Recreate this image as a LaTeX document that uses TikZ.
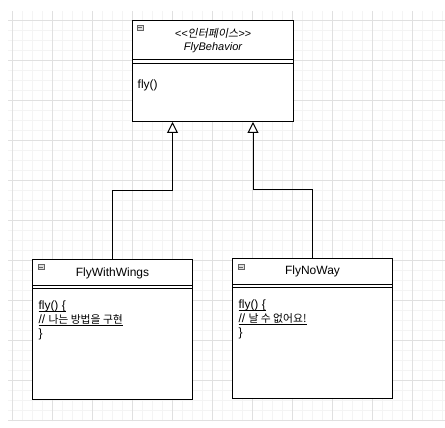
\documentclass[tikz,border=0pt]{standalone}
\usepackage{fontspec}
\setmainfont{Liberation Sans}
\newfontfamily\cjk{Noto Sans CJK KR}[Scale=0.9]
\newfontfamily\cjkit{Noto Sans CJK KR}[FakeSlant=0.2]
\usetikzlibrary{arrows.meta,positioning}
\definecolor{gridmajor}{RGB}{224,224,224}
\definecolor{gridminor}{RGB}{244,244,244}
\definecolor{iconfill}{RGB}{222,222,222}
\definecolor{icondraw}{RGB}{100,100,100}
% underline close to the baseline
\newcommand\methodul[1]{\setbox0\hbox{#1}\rlap{\rule[-2pt]{\wd0}{0.7pt}}\box0}

\begin{document}
\begin{tikzpicture}[x=1pt,y=-1pt,
    classbox/.style={draw, line width=1pt, rectangle, fill=white, inner sep=0pt, anchor=north west},
    iconbox/.style={draw=icondraw, fill=iconfill, line width=0.6pt, minimum width=6pt, minimum height=5pt, inner sep=0pt, anchor=north west},
    namefont/.style={font=\fontsize{11}{13}\selectfont},
    methodtext/.style={font=\fontsize{12}{14}\selectfont, inner sep=0pt, align=left},
    implements/.style={line width=1pt, -{Triangle[length=11pt, width=11pt, fill=white]}}]
    % Background grid
    \useasboundingbox (0,0) rectangle (445,428);
    \fill[white] (0,0) rectangle (445,428);
    \begin{scope}[shift={(12,20)}]
        \draw[gridminor, line width=0.6pt, step=10pt] (-4,401) grid (433,-9);
        \draw[gridmajor, line width=0.8pt, step=40pt] (-4,401) grid (433,-9);
    \end{scope}

    % Interface
    \node[classbox, minimum width=161pt, minimum height=101pt] (flyb) at (132,20) {};
    \draw[line width=1pt] ([yshift=-40pt]flyb.north west) -- ([yshift=-40pt]flyb.north east);
    \draw[line width=1pt] ([yshift=-44pt]flyb.north west) -- ([yshift=-44pt]flyb.north east);
    \node[iconbox] (flybicon) at ([xshift=5pt,yshift=-5pt]flyb.north west) {};
    \draw[icondraw, line width=0.8pt] ([xshift=1.2pt]flybicon.west) -- ([xshift=-1.2pt]flybicon.east);
    \node[namefont] (flybstereo) at ([yshift=-13.3pt]flyb.north) {\itshape <{}<{\cjkit 인터페이스}>{}>};
    \node[namefont] (flybname) at ([yshift=-27.3pt]flyb.north) {\itshape FlyBehavior};
    \node[methodtext, anchor=west] (flybbody) at ([xshift=5.5pt,yshift=-65.7pt]flyb.north west) {fly()};

    % Implementation 1
    \node[classbox, minimum width=160pt, minimum height=140pt] (fww) at (32,259) {};
    \draw[line width=1pt] ([yshift=-26pt]fww.north west) -- ([yshift=-26pt]fww.north east);
    \draw[line width=1pt] ([yshift=-29.5pt]fww.north west) -- ([yshift=-29.5pt]fww.north east);
    \node[iconbox] (fwwicon) at ([xshift=5.5pt,yshift=-5.3pt]fww.north west) {};
    \draw[icondraw, line width=0.8pt] ([xshift=1.2pt]fwwicon.west) -- ([xshift=-1.2pt]fwwicon.east);
    \node[font=\fontsize{12}{14}\selectfont] (fwwname) at ([yshift=-14.3pt]fww.north) {FlyWithWings};
    \node[methodtext, anchor=north west] (fwwbody) at ([xshift=6.3pt,yshift=-42pt]fww.north west)
        {\methodul{fly() \{}\\ \methodul{// {\cjk 나는 방법을 구현}}\\ \}};

    % Implementation 2
    \node[classbox, minimum width=160pt, minimum height=140pt] (fnw) at (232,258) {};
    \draw[line width=1pt] ([yshift=-26pt]fnw.north west) -- ([yshift=-26pt]fnw.north east);
    \draw[line width=1pt] ([yshift=-29.5pt]fnw.north west) -- ([yshift=-29.5pt]fnw.north east);
    \node[iconbox] (fnwicon) at ([xshift=5.5pt,yshift=-6.3pt]fnw.north west) {};
    \draw[icondraw, line width=0.8pt] ([xshift=1.2pt]fnwicon.west) -- ([xshift=-1.2pt]fnwicon.east);
    \node[font=\fontsize{12}{14}\selectfont] (fnwname) at ([yshift=-13.7pt]fnw.north) {FlyNoWay};
    \node[methodtext, anchor=north west] (fnwbody) at ([xshift=6.3pt,yshift=-42pt]fnw.north west)
        {\methodul{fly() \{}\\ \methodul{// {\cjk 날 수 없어요!}}\\ \}};

    % Realization arrows
    \draw[implements] (fww.north) -- ++(0,-69) -| ([xshift=-40.5pt]flyb.south);
    \draw[implements] (fnw.north) -- ++(0,-69) -| ([xshift=40pt]flyb.south);
\end{tikzpicture}
\end{document}
